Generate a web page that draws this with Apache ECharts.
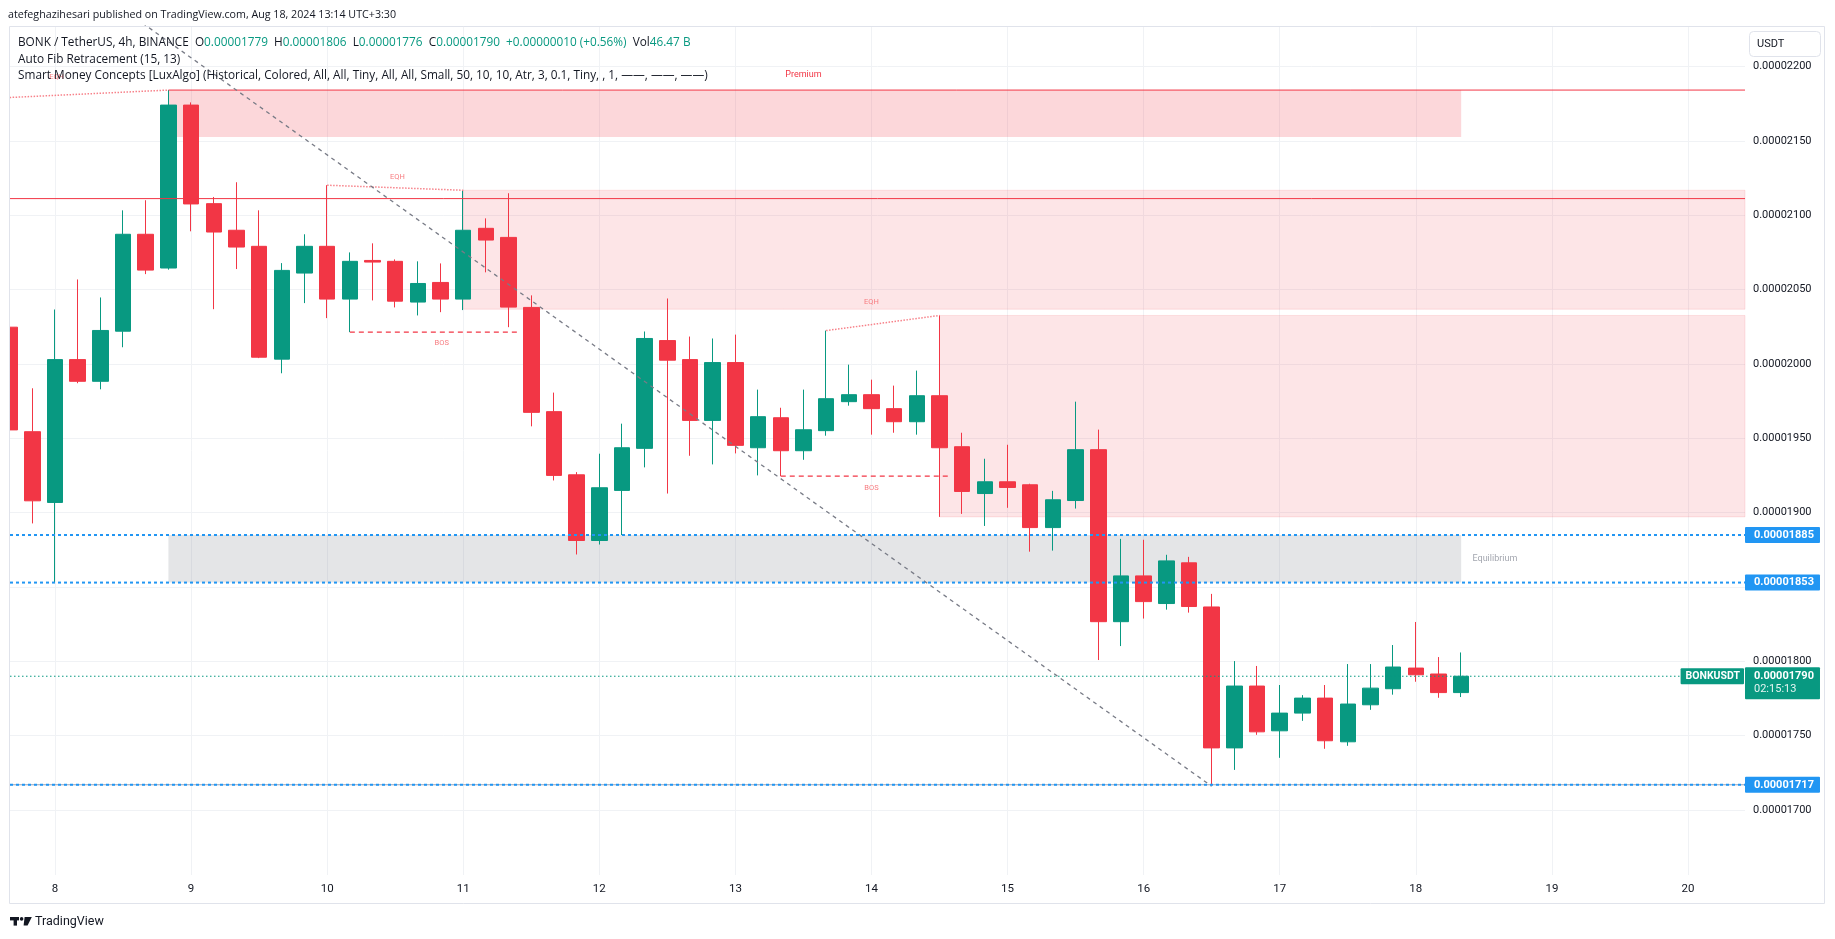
<!DOCTYPE html>
<html><head><meta charset="utf-8">
<script src="https://cdn.jsdelivr.net/npm/echarts@6/dist/echarts.min.js"></script>
<style>html,body{margin:0;padding:0;background:#fff}#c{width:1835px;height:939px}</style>
</head><body><div id="c"></div>
<script>
// ---------- DATA (prices in units of 1e-8 USDT, bar = one 4h candle) ----------
const UNIT = 1e-8;
const firstBar = -2;               // bar index of first (partly hidden) candle; bar 0 = Aug 8 03:30
const openE8  = [2024.8,1954.5,1906.9,2003.0,1988.4,2022.1,2087.3,2064.6,2174.2,2107.9,2090.0,2079.2,2003.3,2061.2,2079.2,2043.7,2069.7,2069.1,2041.7,2054.9,2043.7,2091.3,2085.2,2038.1,1968.0,1925.5,1881.3,1915.0,1943.3,2015.8,2003.0,1962.1,2001.0,1943.7,1963.9,1941.7,1955.2,1974.7,1979.4,1970.0,1961.2,1978.7,1944.4,1912.9,1920.8,1918.8,1890.0,1908.2,1942.4,1826.7,1857.5,1838.9,1866.3,1836.6,1741.8,1783.4,1753.3,1765.2,1775.3,1745.9,1770.8,1781.6,1795.5,1791.5,1779];
const closeE8 = [1955.7,1908.0,2003.0,1988.4,2022.6,2087.3,2063.2,2174.2,2107.7,2088.8,2078.7,2004.6,2063.0,2079.2,2043.7,2069.1,2068.6,2042.3,2054.2,2043.7,2090.0,2083.4,2038.3,1967.5,1925.1,1881.3,1916.8,1943.7,2017.2,2002.6,1962.1,2001.0,1945.3,1964.6,1941.7,1955.8,1976.7,1979.4,1970.0,1961.2,1978.7,1943.7,1914.3,1920.8,1917.0,1890.0,1908.7,1942.4,1826.7,1857.5,1840.2,1867.6,1836.9,1741.8,1783.4,1752.6,1765.2,1775.3,1746.6,1771.3,1782.0,1796.2,1791.0,1779.0,1790];
const lowE8   = [1938.3,1892.8,1853.0,1987.1,1983.0,2011.3,2060.5,2063.5,2089.3,2036.9,2063.9,2004.0,1993.8,2041.0,2030.9,2021.5,2042.8,2038.1,2032.7,2034.9,2036.3,2061.7,2024.8,1958.1,1921.7,1871.9,1878.6,1885.0,1930.5,1912.9,1938.3,1932.5,1939.9,1925.1,1924.6,1935.6,1951.8,1972.0,1952.5,1953.8,1952.5,1897.2,1899.2,1891.1,1903.3,1873.8,1874.5,1902.8,1800.9,1810.3,1828.8,1834.8,1832.8,1717.0,1727.0,1750.6,1735.1,1760.0,1741.2,1743.2,1767.4,1777.6,1786.3,1775.5,1776];
const highE8  = [2030.9,1983.7,2036.7,2056.9,2044.8,2103.4,2110.2,2184.3,2176.0,2112.4,2122.3,2103.4,2067.9,2087.3,2120.3,2075.1,2081.2,2070.4,2069.1,2067.7,2116.9,2098.0,2114.9,2046.2,1980.8,1927.3,1939.7,1959.9,2021.9,2044.1,2018.5,2017.2,2019.8,1982.8,1970.6,1982.8,2022.5,1999.6,1989.5,1985.5,1995.6,2032.7,1953.8,1936.3,1945.7,1919.5,1914.7,1974.7,1955.9,1882.4,1881.8,1871.7,1870.3,1845.4,1800.2,1796.9,1784.1,1777.3,1784.1,1798.2,1798.2,1811.0,1826.5,1802.9,1806];

const dayLabels   = ['8','9','10','11','12','13','14','15','16','17','18','19','20'];
const dayTickBars = [0,6,12,18,24,30,36,42,48,54,60,66,72];
const priceTicksE8 = [1700,1750,1800,1850,1900,1950,2000,2050,2100,2150,2200];

// Smart Money Concepts / Auto Fib overlays  [fromBar, toBar(null = right edge), lowE8, highE8]
const premiumZone     = [5, 62, 2152.8, 2184.3];
const equilibriumZone = [5, 62, 1853, 1885];
const orderBlocks     = [[18, null, 2036.9, 2116.9], [39, null, 1897.2, 2032.7]];
const strongHighLine  = [5, 2184.3];        // from bar, price (to right edge)
const weakHighLine    = [2111.3];           // full width
const eqhLines  = [[[-2, 2179.3], [5, 2184.3]], [[12, 2120.3], [18, 2116.9]], [[34, 2022.5], [39, 2032.7]]];
const bosLines  = [[[13, 2021.5], [20.5, 2021.5]], [[32, 1924.6], [39.5, 1924.6]]];
const fibTrend  = [[3, 2238.7], [51, 1716.0]];
const fibLevelsE8 = [1885, 1853, 1717];
const lastPriceE8 = 1790;
const eqhLabels = [[0.07, 2192.9], [15.1, 2125.8], [36.0, 2041.5]];
const bosLabels = [[17.05, 2013.9], [36.0, 1916.8]];
const premiumLabel = [33.0, 2194.4];
const equilibriumLabel = [62.5, 1869];

// ---------- LAYOUT ----------
const XMIN = -1.984, XMAX = 74.515;
const YMIN = 1656.3 * UNIT, YMAX = 2227.4 * UNIT;
const UP = '#089981', DOWN = '#f23645', TXT = '#131722';
const FONT = 'Roboto, "Noto Sans", sans-serif';
const HFONT = '"Open Sans", Roboto, sans-serif';
const p = v => v * UNIT;
const fmt = v => (v).toFixed(8);

const candles = openE8.map((o, k) => [firstBar + k, p(o), p(closeE8[k]), p(lowE8[k]), p(highE8[k])]);

const zoneData = [];
function zone(z, color, border) {
  zoneData.push([
    { xAxis: z[0], yAxis: p(z[3]), itemStyle: { color: color, borderColor: border || 'transparent', borderWidth: border ? 1 : 0 } },
    { xAxis: z[1] == null ? XMAX : z[1], yAxis: p(z[2]) }
  ]);
}
zone(premiumZone, 'rgba(242,54,69,0.2)');
orderBlocks.forEach(z => zone(z, 'rgba(242,54,69,0.13)', 'rgba(242,54,69,0.12)'));
zone(equilibriumZone, 'rgba(120,123,134,0.2)');

function lineSeries(pts, color, width, type, z) {
  return { type: 'line', data: pts.map(q => [q[0], p(q[1])]), symbol: 'none', silent: true, animation: false,
    clip: true, z: z || 4, lineStyle: { color: color, width: width, type: type } };
}
const overlay = [];
overlay.push(lineSeries([[strongHighLine[0], strongHighLine[1]], [XMAX, strongHighLine[1]]], '#f23645', 1, 'solid'));
overlay.push(lineSeries([[XMIN, weakHighLine[0]], [XMAX, weakHighLine[0]]], '#f23645', 1, 'solid'));
eqhLines.forEach(l => overlay.push(lineSeries(l, '#f7828a', 1.5, [1.5, 1.5])));
bosLines.forEach(l => overlay.push(lineSeries(l, '#f23645', 1.3, [5, 4])));
overlay.push(lineSeries(fibTrend, '#787b86', 1.3, [4, 4], 5));
overlay.push(lineSeries([[XMIN, 1717], [XMAX, 1717]], '#9aa3b6', 1, 'solid', 5));
fibLevelsE8.forEach(v => overlay.push(lineSeries([[XMIN, v], [XMAX, v]], '#2196f3', 2, [3, 3], 6)));
overlay.push(lineSeries([[XMIN, lastPriceE8], [XMAX, lastPriceE8]], UP, 1, [1.5, 2.5], 6));

function textPts(list, text, color, size, position) {
  return list.map(q => ({ value: [q[0], p(q[1])], label: { show: true, formatter: text, color: color, fontSize: size,
    fontFamily: FONT, position: position || 'inside', distance: 0 } }));
}
const annot = [].concat(
  textPts(eqhLabels, 'EQH', '#f77c80', 7.5),
  textPts(bosLabels, 'BOS', '#f77c80', 7.5),
  textPts([premiumLabel], 'Premium', '#f23645', 9),
  textPts([equilibriumLabel], 'Equilibrium', '#a3a6af', 9, 'right')
);

const tags = fibLevelsE8.map(v => ({ value: [XMAX, p(v)], label: { show: true, position: 'right', distance: 0,
  formatter: fmt(p(v)), backgroundColor: '#2196f3', color: '#fff', fontWeight: 'bold', fontSize: 11, fontFamily: FONT,
  padding: [3, 6, 2, 9], borderRadius: 1 } }));
tags.push({ value: [XMAX, p(lastPriceE8)], label: { show: true, position: 'right', distance: 0, offset: [0, 7],
  formatter: '{a|' + fmt(p(lastPriceE8)) + '}\n{b|02:15:13}', backgroundColor: UP, padding: [3, 6, 3, 9], borderRadius: 1,
  rich: { a: { color: '#fff', fontWeight: 'bold', fontSize: 11, fontFamily: FONT, lineHeight: 13 },
          b: { color: '#e6f5f2', fontSize: 11, fontFamily: FONT, lineHeight: 13 } } } });
tags.push({ value: [XMAX, p(lastPriceE8)], label: { show: true, position: 'left', distance: 1, formatter: 'BONKUSDT',
  backgroundColor: UP, color: '#fff', fontWeight: 'bold', fontSize: 10.5, fontFamily: FONT, padding: [3, 4, 2, 5], borderRadius: 1 } });

const chart = echarts.init(document.getElementById('c'), null, { renderer: 'canvas' });
chart.setOption({
  animation: false,
  backgroundColor: '#ffffff',
  grid: { left: 10, right: 90, top: 26, bottom: 64, containLabel: false },
  xAxis: {
    type: 'value', min: XMIN, max: XMAX,
    axisLine: { show: false }, axisTick: { show: false, customValues: dayTickBars },
    splitLine: { show: true, lineStyle: { color: '#f0f2f5', width: 1 } },
    axisLabel: { customValues: dayTickBars, formatter: v => dayLabels[Math.round(v / 6)], color: TXT, fontSize: 11.5,
      fontFamily: FONT, margin: 8 }
  },
  yAxis: {
    type: 'value', position: 'right', min: YMIN, max: YMAX, scale: true,
    axisLine: { show: false }, axisTick: { show: false, customValues: priceTicksE8.map(p) },
    splitLine: { show: true, lineStyle: { color: '#f0f2f5', width: 1 } },
    axisLabel: { customValues: priceTicksE8.map(p), formatter: v => fmt(v), color: TXT, fontSize: 11, fontFamily: FONT,
      margin: 8, align: 'left' }
  },
  series: [
    { type: 'line', data: [], z: 1, silent: true, markArea: { silent: true, data: zoneData } },
    { type: 'candlestick', data: candles, encode: { x: 0, y: [1, 2, 3, 4] }, barWidth: 16, z: 3, silent: true, clip: true,
      itemStyle: { color: UP, color0: DOWN, borderColor: UP, borderColor0: DOWN, borderWidth: 1 } }
  ].concat(overlay).concat([
    { type: 'scatter', data: annot, symbolSize: 0, z: 7, silent: true, clip: false, itemStyle: { opacity: 1 } },
    { type: 'scatter', data: tags, symbolSize: 0, z: 9, silent: true, clip: false, itemStyle: { opacity: 1 } }
  ]),
  graphic: [
    { type: 'rect', shape: { x: 0, y: 20, width: 9.5, height: 870 }, style: { fill: '#ffffff' }, z: 90, silent: true },
    { type: 'rect', shape: { x: 9.5, y: 26.5, width: 1815, height: 877 }, style: { fill: 'none', stroke: '#e0e3eb', lineWidth: 1 }, z: 91, silent: true },
    { type: 'text', x: 8, y: 15, style: { text: 'atefeghazihesari published on TradingView.com, Aug 18, 2024 13:14 UTC+3:30',
      fill: TXT, font: '10.7px ' + HFONT, verticalAlign: 'middle' }, z: 100 },
    { type: 'text', x: 18, y: 42.7, style: { text: '{t|BONK / TetherUS, 4h, BINANCE}  {t|O}{v|0.00001779}  {t|H}{v|0.00001806}  {t|L}{v|0.00001776}  {t|C}{v|0.00001790}  {v|+0.00000010 (+0.56%)}  {t|Vol}{v|46.47 B}',
      verticalAlign: 'middle', font: '11.8px ' + HFONT,
      rich: { t: { fill: TXT, font: '11.8px ' + HFONT }, v: { fill: UP, font: '11.8px ' + HFONT } } }, z: 100 },
    { type: 'text', x: 18, y: 60, style: { text: 'Auto Fib Retracement (15, 13)', fill: TXT, font: '11.8px ' + HFONT, verticalAlign: 'middle' }, z: 100 },
    { type: 'text', x: 18, y: 76, style: { text: 'Smart Money Concepts [LuxAlgo] (Historical, Colored, All, All, Tiny, All, All, Small, 50, 10, 10, Atr, 3, 0.1, Tiny, , 1, \u2014\u2014, \u2014\u2014, \u2014\u2014)',
      fill: TXT, font: '11.8px ' + HFONT, verticalAlign: 'middle' }, z: 100 },
    { type: 'rect', shape: { x: 1749.5, y: 31.5, width: 71, height: 25, r: 4 }, style: { fill: '#fff', stroke: '#e0e3eb', lineWidth: 1 }, z: 100 },
    { type: 'text', x: 1757, y: 44.5, style: { text: 'USDT', fill: TXT, font: '11px ' + FONT, verticalAlign: 'middle' }, z: 101 },
    { type: 'rect', shape: { x: 10, y: 917, width: 9, height: 3.4 }, style: { fill: TXT }, z: 100 },
    { type: 'rect', shape: { x: 13.6, y: 917, width: 3.4, height: 8.6 }, style: { fill: TXT }, z: 100 },
    { type: 'circle', shape: { cx: 21.6, cy: 918.9, r: 1.8 }, style: { fill: TXT }, z: 100 },
    { type: 'polygon', shape: { points: [[24.6, 917], [31.8, 917], [27.6, 925.6], [23.6, 925.6]] }, style: { fill: TXT }, z: 100 },
    { type: 'text', x: 35, y: 921.5, style: { text: 'TradingView', fill: TXT, font: '12.5px ' + FONT, verticalAlign: 'middle' }, z: 100 }
  ]
});
</script></body></html>
